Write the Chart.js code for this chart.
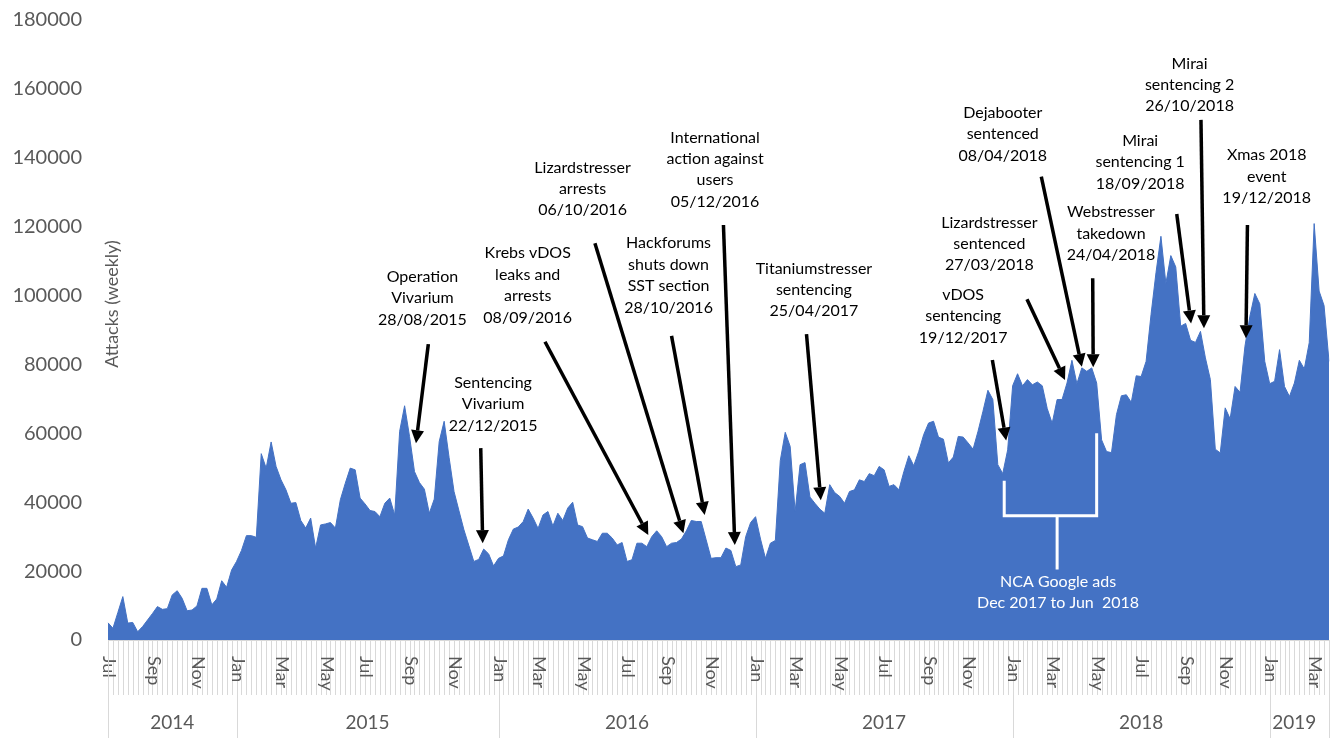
<!DOCTYPE html>
<html>
<head>
<meta charset="utf-8">
<script src="https://cdn.jsdelivr.net/npm/chart.js@4.4.1/dist/chart.umd.min.js"></script>
<style>
  html, body { margin: 0; padding: 0; background: #fff; }
  #wrap { width: 1335px; height: 738px; }
</style>
</head>
<body>
<div id="wrap"><canvas id="chart" width="1335" height="738"></canvas></div>
<script>
// weekly booter attacks, first week starting 03/07/2014
const startDate = Date.UTC(2014, 6, 3);
const weeklyAttacks = [
  5000, 3400, 8000, 12600, 4900, 5100, 2400, 3900, 5800, 7700,
  9700, 8900, 9100, 13100, 14300, 12100, 8500, 8700, 9900, 15000,
  15000, 10200, 11900, 17200, 15300, 20300, 22800, 26000, 30300, 30300,
  29800, 54100, 49900, 57500, 50400, 46500, 43600, 39700, 39900, 34700,
  32500, 35400, 26700, 33400, 33700, 34100, 32500, 40700, 45500, 49900,
  49400, 41200, 39500, 37600, 37300, 35800, 39700, 41200, 36300, 60600,
  68000, 59100, 48900, 45700, 43800, 36800, 40900, 57600, 63500, 53000,
  43100, 37500, 32000, 27400, 22800, 23400, 26400, 25000, 21500, 23700,
  24400, 29100, 32200, 32800, 34400, 38000, 35400, 32400, 36300, 37300,
  33100, 36800, 34700, 38300, 40000, 33400, 32900, 29600, 29100, 28600,
  31000, 31000, 29600, 27600, 28300, 22800, 23300, 28100, 28100, 27100,
  30000, 31700, 30000, 27100, 28100, 28300, 29300, 31700, 34700, 34400,
  34400, 29100, 23700, 23900, 23900, 26700, 26000, 21300, 21800, 30000,
  34100, 35800, 29300, 23700, 28100, 28900, 52100, 60300, 56200, 37300,
  50900, 51500, 41500, 39700, 38000, 36800, 45100, 42800, 41700, 39700,
  43100, 43600, 46500, 46000, 48300, 47700, 50400, 49400, 44600, 45100,
  43600, 48900, 53500, 50600, 54700, 59600, 63000, 63500, 58900, 58300,
  51400, 53100, 59100, 58900, 57200, 55400, 60600, 66400, 72500, 69800,
  50900, 48300, 55200, 73800, 77300, 73800, 75600, 74100, 74900, 73800,
  67200, 62900, 69800, 69800, 74600, 81200, 74400, 79000, 78000, 79000,
  74600, 58100, 54700, 54400, 65400, 70900, 71200, 69000, 76700, 76500,
  80900, 94500, 106600, 117200, 103500, 111600, 108300, 91100, 91900, 87000,
  86400, 89600, 81900, 75600, 55400, 54300, 67400, 64200, 73600, 71900,
  85300, 94000, 100600, 97600, 80900, 74400, 75100, 84300, 73600, 70700,
  74600, 81200, 78700, 86300, 120900, 101300, 97100, 80900
];
const monthNames = ['Jan', 'Feb', 'Mar', 'Apr', 'May', 'Jun', 'Jul', 'Aug', 'Sep', 'Oct', 'Nov', 'Dec'];
const shownMonths = ['Jan', 'Mar', 'May', 'Jul', 'Sep', 'Nov'];
const yearLabels = ['2014', '2015', '2016', '2017', '2018', '2019'];
const yMax = 180000;
const yStep = 20000;

// events: text anchor, arrow start and arrow tip as [week index, attacks]
const events = [
  { lines: ['Operation', 'Vivarium', '28/08/2015'], at: [63.6, 105500], from: [64.8, 85900], to: [62.3, 57100] },
  { lines: ['Sentencing', 'Vivarium', '22/12/2015'], at: [77.9, 74700], from: [75.4, 55700], to: [75.8, 28100] },
  { lines: ['Krebs vDOS', 'leaks and', 'arrests', '08/09/2016'], at: [84.9, 112300], from: [88.4, 86600], to: [109.3, 30500] },
  { lines: ['Lizardstresser', 'arrests', '06/10/2016'], at: [96.0, 137200], from: [98.5, 115200], to: [116.4, 31000] },
  { lines: ['Hackforums', 'shuts down', 'SST section', '28/10/2016'], at: [113.4, 115200], from: [114.0, 88300], to: [120.7, 36300] },
  { lines: ['International', 'action against', 'users', '05/12/2016'], at: [122.8, 145900], from: [124.5, 120500], to: [126.8, 27600] },
  { lines: ['Titaniumstresser', 'sentencing', '25/04/2017'], at: [142.8, 107900], from: [141.3, 88800], to: [144.2, 40600] },
  { lines: ['vDOS', 'sentencing', '19/12/2017'], at: [173.0, 100200], from: [178.9, 81300], to: [181.7, 57900] },
  { lines: ['Lizardstresser', 'sentenced', '27/03/2018'], at: [178.3, 121200], from: [185.9, 98900], to: [193.6, 75500] },
  { lines: ['Dejabooter', 'sentenced', '08/04/2018'], at: [181.0, 153100], from: [188.8, 134500], to: [197.0, 79300] },
  { lines: ['Webstresser', 'takedown', '24/04/2018'], at: [202.9, 124200], from: [199.2, 105000], to: [199.3, 79200] },
  { lines: ['Mirai', 'sentencing 1', '18/09/2018'], at: [208.8, 145000], from: [216.2, 123700], to: [219.1, 91900] },
  { lines: ['Mirai', 'sentencing 2', '26/10/2018'], at: [218.8, 167400], from: [221.1, 151000], to: [221.7, 90500] },
  { lines: ['Xmas 2018', 'event', '19/12/2018'], at: [234.4, 140800], from: [230.5, 120500], to: [230.2, 87600] }
];
// NCA Google ads campaign bracket
const ncaBracket = {
  lines: ['NCA Google ads', 'Dec 2017 to Jun  2018'],
  left: 181.3, right: 200.0, stem: 192.0,
  base: 36100, leftTop: 46200, rightTop: 60000, stemEnd: 20500,
  textAt: [192.2, 16800]
};

const weekDates = weeklyAttacks.map((_, i) => new Date(startDate + i * 7 * 86400000));
const categories = weekDates.map(d => d.toISOString().slice(0, 10));

const FONT = 'Lato, "Open Sans", sans-serif';
const GREY = '#595959';
const LINE_GREY = '#d9d9d9';

function drawArrow(ctx, x1, y1, x2, y2) {
  const ang = Math.atan2(y2 - y1, x2 - x1);
  const head = 13, half = 6.5;
  const bx = x2 - head * Math.cos(ang), by = y2 - head * Math.sin(ang);
  ctx.beginPath();
  ctx.moveTo(x1, y1);
  ctx.lineTo(bx, by);
  ctx.stroke();
  ctx.beginPath();
  ctx.moveTo(x2, y2);
  ctx.lineTo(bx + half * Math.sin(ang), by - half * Math.cos(ang));
  ctx.lineTo(bx - half * Math.sin(ang), by + half * Math.cos(ang));
  ctx.closePath();
  ctx.fill();
}

const decorPlugin = {
  id: 'decor',
  afterDatasetsDraw(chart) {
    const { ctx, chartArea: a, scales: { x, y } } = chart;
    ctx.save();

    // axis line + weekly tick marks
    ctx.strokeStyle = LINE_GREY;
    ctx.lineWidth = 1;
    ctx.beginPath();
    ctx.moveTo(a.left, a.bottom + 0.5);
    ctx.lineTo(a.right, a.bottom + 0.5);
    categories.forEach((_, i) => {
      const px = Math.round(x.getPixelForValue(i)) + 0.5;
      ctx.moveTo(px, a.bottom);
      ctx.lineTo(px, a.bottom + 55);
    });
    ctx.stroke();

    // month labels (every second month) and year groups
    const yearStarts = [];
    ctx.fillStyle = GREY;
    ctx.font = '18px ' + FONT;
    weekDates.forEach((d, i) => {
      const prev = i > 0 ? weekDates[i - 1] : null;
      if (prev && prev.getUTCFullYear() !== d.getUTCFullYear()) yearStarts.push(i);
      if (prev && prev.getUTCMonth() === d.getUTCMonth()) return;
      const name = monthNames[d.getUTCMonth()];
      if (!shownMonths.includes(name)) return;
      const px = x.getPixelForValue(i) + 1;
      ctx.save();
      ctx.translate(px, a.bottom + 16);
      ctx.rotate(Math.PI / 2);
      ctx.textAlign = 'left';
      ctx.textBaseline = 'middle';
      ctx.fillText(name, 0, 0);
      ctx.restore();
    });

    const bounds = [a.left].concat(yearStarts.map(i => x.getPixelForValue(i))).concat([a.right]);
    ctx.beginPath();
    ctx.moveTo(a.left + 0.5, a.bottom);
    ctx.lineTo(a.left + 0.5, chart.height);
    bounds.slice(1).forEach(b => {
      const px = Math.round(b) + 0.5;
      ctx.moveTo(px, a.bottom + 55);
      ctx.lineTo(px, chart.height);
    });
    ctx.stroke();

    ctx.font = '19px ' + FONT;
    ctx.textAlign = 'center';
    ctx.textBaseline = 'middle';
    yearLabels.forEach((lab, k) => {
      const last = k === yearLabels.length - 1;
      ctx.fillText(lab, (bounds[k] + bounds[k + 1]) / 2 - (last ? 5 : 0), a.bottom + 83);
    });

    // y axis title
    ctx.save();
    ctx.translate(a.left + 4, a.top + 284);
    ctx.rotate(-Math.PI / 2);
    ctx.font = '18px ' + FONT;
    ctx.fillText('Attacks (weekly)', 0, 0);
    ctx.restore();

    // event annotations
    ctx.fillStyle = '#000';
    ctx.strokeStyle = '#000';
    ctx.lineWidth = 3.5;
    ctx.font = '16px ' + FONT;
    events.forEach(ev => {
      const tx = x.getPixelForValue(ev.at[0]);
      const ty = y.getPixelForValue(ev.at[1]);
      ev.lines.forEach((line, k) => ctx.fillText(line, tx, ty + k * 21.4));
      drawArrow(ctx,
        x.getPixelForValue(ev.from[0]), y.getPixelForValue(ev.from[1]),
        x.getPixelForValue(ev.to[0]), y.getPixelForValue(ev.to[1]));
    });

    // NCA bracket
    const b = ncaBracket;
    const bl = x.getPixelForValue(b.left), br = x.getPixelForValue(b.right), bs = x.getPixelForValue(b.stem);
    const by = y.getPixelForValue(b.base);
    ctx.strokeStyle = '#fff';
    ctx.fillStyle = '#fff';
    ctx.lineWidth = 3;
    ctx.beginPath();
    ctx.moveTo(bl, y.getPixelForValue(b.leftTop));
    ctx.lineTo(bl, by);
    ctx.lineTo(br, by);
    ctx.lineTo(br, y.getPixelForValue(b.rightTop));
    ctx.moveTo(bs, by);
    ctx.lineTo(bs, y.getPixelForValue(b.stemEnd));
    ctx.stroke();
    const ntx = x.getPixelForValue(b.textAt[0]);
    const nty = y.getPixelForValue(b.textAt[1]);
    b.lines.forEach((line, k) => ctx.fillText(line, ntx, nty + k * 20.5));

    ctx.restore();
  }
};

new Chart(document.getElementById('chart'), {
  type: 'line',
  data: {
    labels: categories,
    datasets: [{
      label: 'Attacks (weekly)',
      data: weeklyAttacks,
      fill: 'origin',
      backgroundColor: '#4472C4',
      borderColor: '#4472C4',
      borderWidth: 1,
      pointRadius: 0,
      tension: 0
    }]
  },
  options: {
    responsive: false,
    animation: false,
    devicePixelRatio: 1,
    layout: { padding: { left: 8, right: 6, top: 20, bottom: 98 } },
    scales: {
      x: { display: false, offset: false },
      y: {
        min: 0,
        max: yMax,
        ticks: {
          stepSize: yStep,
          color: GREY,
          font: { family: FONT, size: 20 },
          padding: 26,
          callback: v => String(v)
        },
        grid: { display: false, drawTicks: false },
        border: { display: false },
        afterFit(scale) {
          scale.width = 100;
          // tick padding should not push the plot area down
          scale.paddingTop = 0;
          scale.paddingBottom = 0;
        }
      }
    },
    plugins: {
      legend: { display: false },
      tooltip: { enabled: false }
    }
  },
  plugins: [decorPlugin]
});
</script>
</body>
</html>
